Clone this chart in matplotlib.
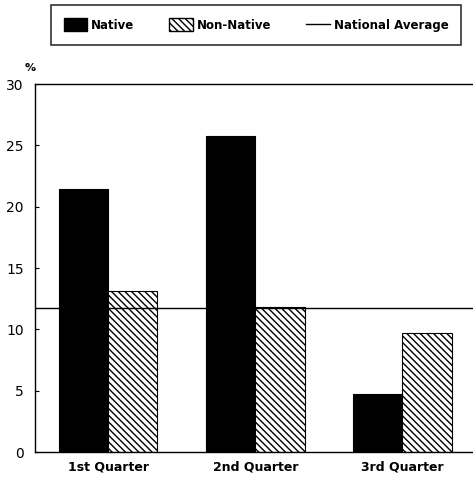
import numpy as np
import matplotlib.pyplot as plt
from matplotlib.lines import Line2D
from matplotlib.patches import Patch

# Data
quarters = ['1st Quarter', '2nd Quarter', '3rd Quarter']
native = [21.4, 25.8, 4.7]
non_native = [13.1, 11.8, 9.7]
national_average = 11.7

plt.rcParams['font.family'] = 'DejaVu Sans'
plt.rcParams['hatch.linewidth'] = 1.0

fig = plt.figure(figsize=(4.73, 4.82), dpi=100)
ax = fig.add_axes([35 / 473, 30 / 482, 438 / 473, 368 / 482])

x = np.arange(len(quarters))
w = 0.335
ax.bar(x - w / 2, native, w, color='black', edgecolor='black', linewidth=0.8)
ax.bar(x + w / 2, non_native, w, color='white', edgecolor='black',
       hatch='\\\\\\\\\\', linewidth=0.8)
ax.axhline(national_average, color='black', linewidth=1.0)

ax.set_xlim(-0.497, 2.48)
ax.set_ylim(0, 30)
ax.set_yticks([0, 5, 10, 15, 20, 25, 30])
ax.set_xticks(x)
ax.set_xticklabels(quarters, fontsize=9, fontweight='bold')
ax.tick_params(axis='y', labelsize=10, direction='in', length=3, pad=8)
ax.tick_params(axis='x', length=0, pad=6)
ax.spines['right'].set_visible(False)
for s in ['left', 'top', 'bottom']:
    ax.spines[s].set_linewidth(1.0)
ax.text(-0.01, 1.03, '%', transform=ax.transAxes, fontsize=8,
        fontweight='bold', ha='center', va='bottom')

handles = [Patch(facecolor='black', edgecolor='black'),
           Patch(facecolor='white', edgecolor='black', hatch='\\\\\\\\\\'),
           Line2D([0], [0], color='black', linewidth=1.0)]
labels = ['Native', 'Non-Native', 'National Average']
leg = fig.legend(handles, labels, loc='center', bbox_to_anchor=(256 / 473, 1 - 25 / 482),
                 ncol=3, frameon=True, fancybox=False,
                 edgecolor='black', handlelength=2.0, handleheight=1.3, handletextpad=0.3,
                 columnspacing=3.0, borderpad=1.1, prop={'weight': 'bold', 'size': 8.5})
leg.get_frame().set_linewidth(1.2)

fig.savefig('out.png', dpi=100)
